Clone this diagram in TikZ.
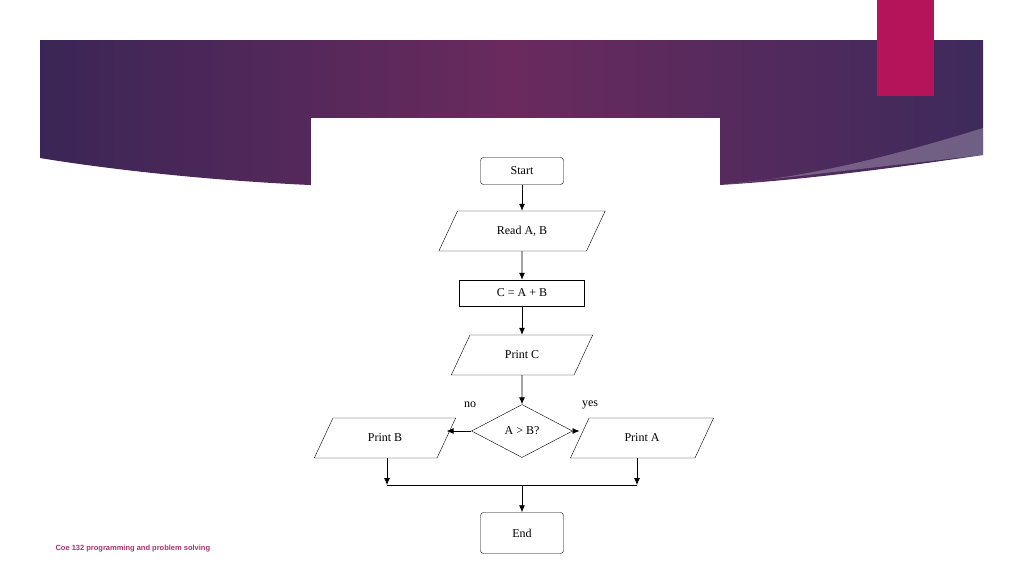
\documentclass[tikz,border=0pt]{standalone}
\usepackage{fontspec}
\setmainfont{Liberation Serif}
\newfontfamily\footfont{Liberation Sans}
\usetikzlibrary{shapes.geometric, arrows.meta, positioning}
\definecolor{bandL}{HTML}{3A2656}
\definecolor{bandM}{HTML}{6A2A5E}
\definecolor{bandR}{HTML}{3E2A5C}
\definecolor{tabpink}{HTML}{B5135A}
\definecolor{footpink}{HTML}{A8326E}
\tikzset{
  term/.style={draw, rounded corners=3pt, minimum width=83pt, minimum height=27pt, font=\large},
  io/.style={draw, trapezium, trapezium left angle=65, trapezium right angle=115, minimum width=110pt, minimum height=40pt, inner xsep=2pt, font=\large},
  proc/.style={draw, minimum width=125pt, minimum height=26pt, font=\large},
  dec/.style={draw, diamond, aspect=1.9, minimum width=101pt, minimum height=53pt, inner sep=0pt, font=\large},
  flow/.style={-{Latex[length=7pt,width=6pt]}, thick}
}
\begin{document}
\begin{tikzpicture}[x=1pt, y=-1pt]
        \useasboundingbox (0,0) rectangle (1024,576);
        \fill[white] (0,0) rectangle (1024,576);
        % Banner
        \shade[left color=bandL, right color=bandR, middle color=bandM]
          (40,40) -- (983,40) -- (983,155) .. controls (880,170) and (800,180) .. (720,185)
          -- (310,185) .. controls (200,180) and (100,168) .. (40,158) -- cycle;
        \fill[white, opacity=0.25] (983,128) .. controls (880,160) and (800,178) .. (720,185) -- (983,155) -- cycle;
        \fill[tabpink] (877,0) rectangle (934,96);
        \fill[white] (311,118) rectangle (720,560);
        % Nodes
        \node[term] (start) at (522,171) {Start};
        \node[io] (read) at (522,231) {Read A, B};
        \node[proc] (sum) at (522,293) {C = A + B};
        \node[io] (printc) at (522,355) {Print C};
        \node[dec] (cmp) at (522,431) {A > B?};
        \node[io, minimum width=88pt] (printb) at (385,438) {Print B};
        \node[io, minimum width=86pt] (printa) at (642,438) {Print A};
        \node[term, minimum height=41pt] (stop) at (522,533) {End};
        \coordinate (joinb) at (387,485);
        \coordinate (joina) at (637,485);
        \coordinate (joinm) at (522,485);
        % Connectors
        \draw[flow] (start) -- (read);
        \draw[flow] (read) -- (sum);
        \draw[flow] (sum) -- (printc);
        \draw[flow] (printc) -- (cmp);
        \draw[flow] (cmp.west) -- (printb.east |- cmp.west);
        \draw[flow] (cmp.east) -- (printa.west |- cmp.east);
        \draw[flow] (joinb |- printb.south) -- (joinb);
        \draw[flow] (joina |- printa.south) -- (joina);
        \draw[thick] (joinb) -- (joina);
        \draw[flow] (joinm) -- (stop);
        % Labels
        \node[font=\large] (nolbl) at (470,405) {no};
        \node[font=\large] (yeslbl) at (590,405) {yes};
        \node[anchor=west, font=\footfont\bfseries\fontsize{7.5}{9}\selectfont, text=footpink] (foot) at (52,549) {Coe 132 programming and problem solving};
\end{tikzpicture}
\end{document}
